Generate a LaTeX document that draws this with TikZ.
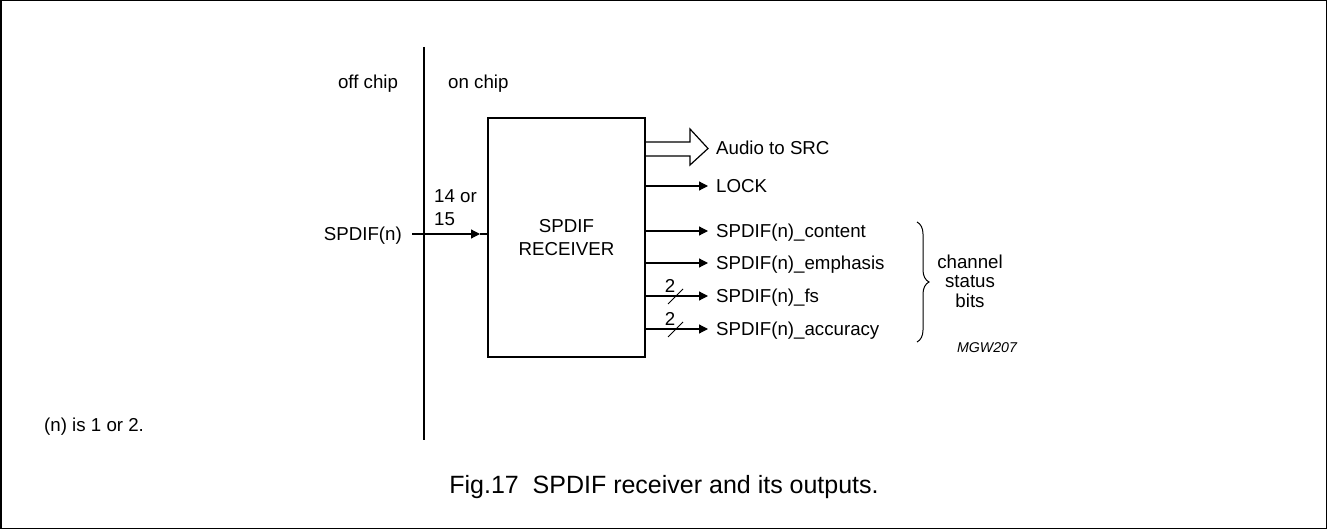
\documentclass[tikz,border=0pt]{standalone}
\usepackage{fontspec}
\setmainfont{Liberation Sans}
\usetikzlibrary{arrows.meta,decorations.pathreplacing}
\begin{document}
\begin{tikzpicture}[x=1pt,y=-1pt,
  txt/.style={inner sep=0pt, font=\fontsize{18.7}{22}\selectfont},
  lbl/.style={txt, text height=13.4pt, text depth=0pt},
  wire/.style={line width=1.2pt},
  sig/.style={wire, -{Triangle[length=9pt,width=9pt]}},
  bus/.style={line width=1pt},
]
\useasboundingbox (0,0) rectangle (1327,529);
\draw[line width=1.5pt] (0.75,0.75) rectangle (1326.25,528.25);

% chip boundary
\coordinate (vtop) at (424,47);
\coordinate (vbot) at (424,440);
\draw[line width=2.5pt] (vtop) -- (vbot);
\node[lbl, anchor=center] (off) at (368,82) {off chip};
\node[lbl, anchor=west] (on) at (448,82) {on chip};

% receiver box
\node[draw, line width=2pt, minimum width=157pt, minimum height=239pt, inner sep=0pt,
      align=center, font=\fontsize{18.7}{23}\selectfont] (rx) at (566.5,237.5) {SPDIF\\RECEIVER};

% input
\node[lbl, anchor=east] (in) at (402,234) {SPDIF(n)};
\coordinate (intip) at (480,234);
\draw[sig] ([xshift=10pt]in.east) -- (intip);
\draw[wire] (intip) -- (intip -| rx.west);
\node[lbl, anchor=west] (n14) at (434,196) {14 or};
\node[lbl, anchor=west] (n15) at (434,219) {15};

% outputs
\node[lbl, anchor=west] (audio) at (716,148) {Audio to SRC};
\node[lbl, anchor=west] (lock) at (716,186) {LOCK};
\node[lbl, anchor=west] (content) at (716,231) {SPDIF(n)\_content};
\node[lbl, anchor=west] (emph) at (716,263) {SPDIF(n)\_emphasis};
\node[lbl, anchor=west] (fs) at (716,296) {SPDIF(n)\_fs};
\node[lbl, anchor=west] (acc) at (716,329) {SPDIF(n)\_accuracy};

% hollow bus arrow
\coordinate (h1) at (690,142);
\coordinate (h2) at (690,129);
\coordinate (htip) at (708,148.5);
\coordinate (h3) at (690,165);
\coordinate (h4) at (690,156);
\draw[wire, line join=miter] (rx.east |- h1) -- (h1) -- (h2) -- (htip) -- (h3) -- (h4) -- (rx.east |- h4);

\foreach \n in {lock,content,emph,fs,acc}
  \draw[sig] (rx.east |- \n.west) -- ([xshift=-8pt]\n.west);

% bus slashes
\foreach \n in {fs,acc} {
  \draw[bus] ([xshift=-48pt,yshift=-8pt]\n.west) -- ([xshift=-33pt,yshift=7pt]\n.west);
  \node[txt, anchor=base] at ([xshift=-46pt,yshift=4pt]\n.west) {2};
}

% brace
\coordinate (btop) at (917,222);
\coordinate (bbot) at (917,342);
\draw[line width=1pt, decorate, decoration={brace, amplitude=12pt}] (btop) -- (bbot);
\node[txt, align=center, font=\fontsize{18.7}{19.5}\selectfont, anchor=center] (csb) at (970,281) {channel\\status\\bits};

\node[inner sep=0pt, font=\fontsize{14.2}{16}\selectfont\itshape] (mgw) at (987,348) {MGW207};

\node[txt, anchor=base west] (note) at (44,431) {(n) is 1 or 2.};

\node[inner sep=0pt, anchor=base, font=\fontsize{25}{28}\selectfont] (cap) at (664,493) {Fig.17\ \ SPDIF receiver and its outputs.};
\end{tikzpicture}
\end{document}
